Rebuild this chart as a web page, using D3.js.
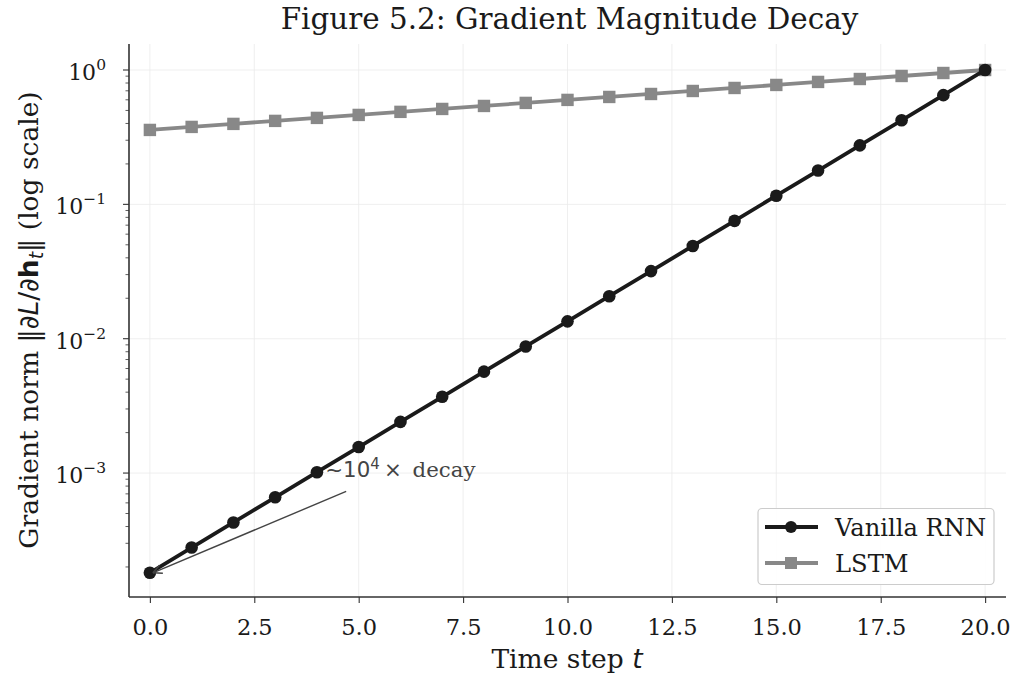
<!DOCTYPE html>
<html><head><meta charset="utf-8">
<script src="https://cdn.jsdelivr.net/npm/d3@7"></script>
<style>
body{margin:0;background:#fff;}
text{font-family:"DejaVu Serif",serif;}
</style></head>
<body><svg id="c" width="1013" height="674"></svg>
<script>
const timeSteps = [0,1,2,3,4,5,6,7,8,9,10,11,12,13,14,15,16,17,18,19,20];
const rnnValues = [0.000181,0.000279,0.000429,0.00066,0.001015,0.001562,0.002403,0.003697,0.005688,0.00875,0.01346,0.02071,0.03186,0.0490,0.0754,0.1160,0.1785,0.2746,0.4225,0.65,1.0];
const lstmValues = [0.358,0.377,0.397,0.418,0.440,0.463,0.488,0.513,0.540,0.569,0.599,0.630,0.663,0.698,0.735,0.774,0.815,0.857,0.9025,0.95,1.0];
const xTicks = [0,2.5,5,7.5,10,12.5,15,17.5,20];
const yDecades = [0,-1,-2,-3];
const seriesNames = ["Vanilla RNN","LSTM"];
const seriesColors = ["#1a1a1a","#888888"];

const svg = d3.select("#c");
const L=129, R=1006, T=44, B=597;
const x = d3.scaleLinear().domain([-0.5,20.5]).range([L,R]);
const y = d3.scaleLog().domain([Math.pow(10,-3.9225),Math.pow(10,0.1935)]).range([B,T]);

// grid
const g = svg.append("g");
xTicks.forEach(v=>g.append("line").attr("x1",x(v)).attr("x2",x(v)).attr("y1",T).attr("y2",B).attr("stroke","#ebebeb").attr("stroke-width",0.8));
yDecades.forEach(d=>g.append("line").attr("x1",L).attr("x2",R).attr("y1",y(Math.pow(10,d))).attr("y2",y(Math.pow(10,d))).attr("stroke","#ebebeb").attr("stroke-width",0.8));

// axes
const xAxis = d3.axisBottom(x).tickValues(xTicks).tickFormat(d3.format(".1f")).tickSize(6).tickPadding(16);
const ax = svg.append("g").attr("transform",`translate(0,${B})`).call(xAxis);
ax.select(".domain").attr("stroke","#333").attr("stroke-width",1.6).attr("d",`M${L},0H${R}`);
ax.selectAll(".tick line").attr("stroke","#333").attr("stroke-width",1.1);
ax.selectAll("text").attr("font-size",22.5).attr("fill","#1a1a1a").attr("font-family","DejaVu Serif");

// y axis
const ay = svg.append("g");
ay.append("line").attr("x1",L).attr("x2",L).attr("y1",T).attr("y2",B).attr("stroke","#333").attr("stroke-width",1.6);
const minor=[];
for(let d=-4; d<=0; d++) for(let k=1;k<10;k++){const v=k*Math.pow(10,d); if(v>=y.domain()[0]&&v<=y.domain()[1]) minor.push({v,major:k===1});}
minor.forEach(m=>ay.append("line").attr("x1",L).attr("x2",L-(m.major?6:3.5)).attr("y1",y(m.v)).attr("y2",y(m.v)).attr("stroke","#333").attr("stroke-width",m.major?1.1:0.8));
yDecades.forEach(d=>{
  const t = ay.append("text").attr("x",L-23).attr("y",y(Math.pow(10,d))+10).attr("text-anchor","end").attr("font-size",22).attr("fill","#1a1a1a").attr("font-family","DejaVu Sans");
  t.append("tspan").text("10");
  t.append("tspan").attr("dy",-10).attr("font-size",15.5).text(d===0?"0":"\u2212"+(-d));
});

// series
const data=[rnnValues,lstmValues];
const line = d3.line().x((d,i)=>x(timeSteps[i])).y(d=>y(d));
[1,0].forEach(s=>{
  svg.append("path").attr("d",line(data[s])).attr("fill","none").attr("stroke",seriesColors[s]).attr("stroke-width",3.8);
  data[s].forEach((v,i)=>{
    if(s===0) svg.append("circle").attr("cx",x(timeSteps[i])).attr("cy",y(v)).attr("r",6.3).attr("fill",seriesColors[s]);
    else svg.append("rect").attr("x",x(timeSteps[i])-6.2).attr("y",y(v)-6.2).attr("width",12.4).attr("height",12.4).attr("fill",seriesColors[s]);
  });
});

// annotation arrow
const ax0=x(0)+3, ay0=y(rnnValues[0]), ax1=x(4.7), ay1=y(0.00073);
svg.append("line").attr("x1",ax1).attr("y1",ay1).attr("x2",ax0).attr("y2",ay0).attr("stroke","#444").attr("stroke-width",1.4);
const ang=Math.atan2(ay1-ay0,ax1-ax0);
[0.45,-0.45].forEach(a=>svg.append("line").attr("x1",ax0).attr("y1",ay0).attr("x2",ax0+10*Math.cos(ang+a)).attr("y2",ay0+10*Math.sin(ang+a)).attr("stroke","#444").attr("stroke-width",1.4));
const at = svg.append("text").attr("x",x(4.2)).attr("y",y(0.00094)).attr("font-size",21.3).attr("fill","#444");
at.append("tspan").attr("font-family","DejaVu Sans").text("~10");
at.append("tspan").attr("dy",-8).attr("font-size",15).attr("font-family","DejaVu Sans").text("4");
at.append("tspan").attr("dy",8).attr("font-family","DejaVu Sans").text("\u2009\u00d7");
at.append("tspan").text("\u2002decay");

// legend
const lg = svg.append("g");
lg.append("rect").attr("x",758).attr("y",508.5).attr("width",236).attr("height",76).attr("rx",4).attr("fill","#fff").attr("fill-opacity",0.9).attr("stroke","#ccc").attr("stroke-width",1.2);
seriesNames.forEach((n,i)=>{
  const yy=527+i*36;
  lg.append("line").attr("x1",765).attr("x2",818).attr("y1",yy).attr("y2",yy).attr("stroke",seriesColors[i]).attr("stroke-width",3.8);
  if(i===0) lg.append("circle").attr("cx",791).attr("cy",yy).attr("r",6).attr("fill",seriesColors[i]);
  else lg.append("rect").attr("x",785).attr("y",yy-6).attr("width",12).attr("height",12).attr("fill",seriesColors[i]);
  lg.append("text").attr("x",835).attr("y",yy+9).attr("font-size",24.2).attr("fill","#1a1a1a").text(n);
});

// title & labels
svg.append("text").attr("x",569.5).attr("y",29).attr("text-anchor","middle").attr("font-size",29.4).attr("fill","#1a1a1a").text("Figure 5.2: Gradient Magnitude Decay");
const xl = svg.append("text").attr("x",567).attr("y",668).attr("text-anchor","middle").attr("font-size",26.5).attr("fill","#1a1a1a");
xl.append("tspan").text("Time step ");
xl.append("tspan").attr("font-family","DejaVu Sans").attr("font-style","italic").text("t");
const yl = svg.append("text").attr("transform","translate(38,320) rotate(-90)").attr("text-anchor","middle").attr("font-size",26.5).attr("fill","#1a1a1a");
yl.append("tspan").text("Gradient norm ");
yl.append("tspan").attr("font-family","DejaVu Sans").text("\u2016\u2202");
yl.append("tspan").attr("font-family","DejaVu Sans").attr("font-style","italic").text("L");
yl.append("tspan").attr("font-family","DejaVu Sans").text("/\u2202");
yl.append("tspan").attr("font-family","DejaVu Sans").attr("font-weight","bold").text("h");
yl.append("tspan").attr("font-family","DejaVu Sans").attr("font-style","italic").attr("font-size",19).attr("dy",5).text("t");
yl.append("tspan").attr("font-family","DejaVu Sans").attr("dy",-5).text("\u2016");
yl.append("tspan").text(" (log scale)");
</script></body></html>
